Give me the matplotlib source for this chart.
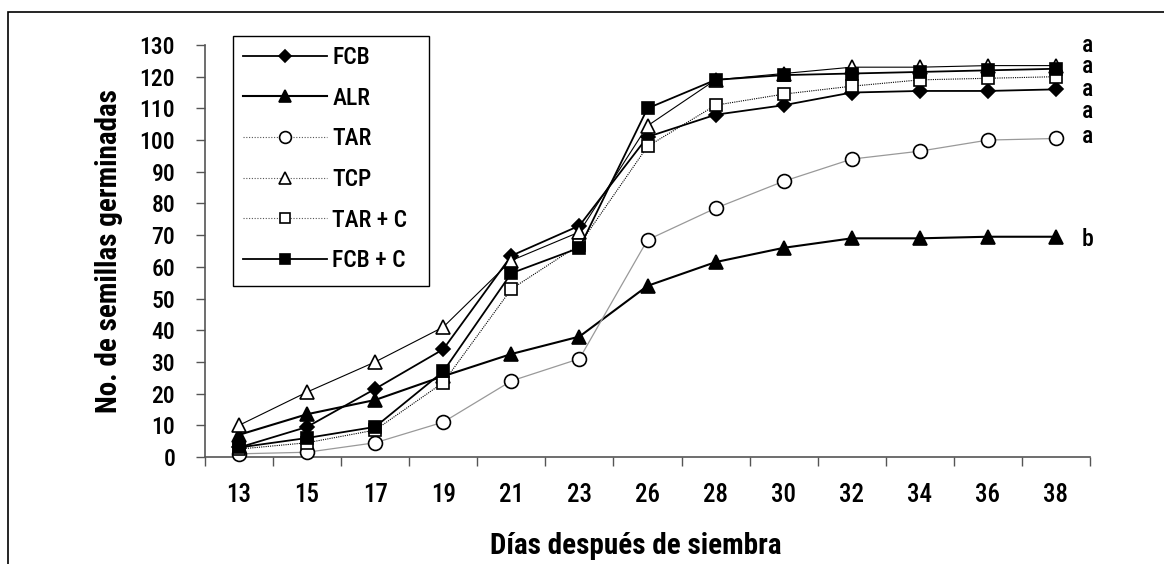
import matplotlib
matplotlib.use("Agg")
import matplotlib.pyplot as plt
from matplotlib.patches import Rectangle
from matplotlib.lines import Line2D

plt.rcParams['font.family'] = ['Roboto Condensed', 'DejaVu Sans']
plt.rcParams['font.stretch'] = 'condensed'
plt.rcParams['font.weight'] = 'medium'

days = ["13", "15", "17", "19", "21", "23", "26", "28", "30", "32", "34", "36", "38"]
fcb = [3, 9.5, 21.5, 34, 63.5, 73, 101, 108, 111, 115, 115.5, 115.5, 116]
alr = [7, 13.5, 18, 25.5, 32.5, 38, 54, 61.5, 66, 69, 69, 69.5, 69.5]
tar = [1, 1.5, 4.5, 11, 24, 31, 68.5, 78.5, 87, 94, 96.5, 100, 100.5]
tcp = [10, 20.5, 30, 41, 62, 71, 104.5, 119, 121, 123, 123, 123.5, 123.5]
tarc = [2.5, 4.5, 8.5, 23.5, 53, 67, 98, 111, 114.5, 117, 119, 119.5, 120]
fcbc = [3, 6, 9.5, 27, 58, 66, 110, 119, 120.5, 121, 121.5, 122, 122.5]
series_names = ["FCB", "ALR", "TAR", "TCP", "TAR + C", "FCB + C"]
letters = ["a", "a", "a", "a", "a", "b"]
letter_y = [130, 123.3, 116, 109, 101, 68.5]

W, H = 1164, 564
fig = plt.figure(figsize=(W / 100, H / 100), dpi=100)
ax = fig.add_axes([205 / W, 1 - 457 / H, (1090 - 205) / W, (457 - 45) / H])

x = list(range(len(days)))
styles = [
    dict(data=fcb, color='black', lw=1.3, ls='-', marker='D', ms=7, mfc='black', mec='black'),
    dict(data=alr, color='black', lw=1.5, ls='-', marker='^', ms=9.5, mfc='black', mec='black'),
    dict(data=tar, color='#999999', lw=0.9, ls='-', marker='o', ms=10, mfc='white', mec='black'),
    dict(data=tcp, color='black', lw=0.8, ls='-', marker='^', ms=10, mfc='white', mec='black'),
    dict(data=tarc, color='black', lw=0.8, ls=(0, (1, 1)), marker='s', ms=9, mfc='white', mec='black'),
    dict(data=fcbc, color='black', lw=1.3, ls='-', marker='s', ms=9, mfc='black', mec='black'),
]
leg_styles = ['-', '-', (0, (1, 1.5)), (0, (1, 1.5)), (0, (1, 1.5)), '-']
handles = []
for name, st, lst in zip(series_names, styles, leg_styles):
    ax.plot(x, st['data'], color=st['color'], lw=st['lw'], ls=st['ls'], marker=st['marker'],
            ms=st['ms'], mfc=st['mfc'], mec=st['mec'], mew=1.2, clip_on=False, zorder=3)
    handles.append(Line2D([], [], color='black' if lst == '-' else '#555555',
                          lw=st['lw'] if lst == '-' else 0.8, ls=lst, marker=st['marker'],
                          ms=st['ms'] * 0.85, mfc=st['mfc'], mec=st['mec'], mew=1.2))

ax.set_xlim(-0.5, len(days) - 0.5)
ax.set_ylim(0, 130)
ax.set_yticks(range(0, 131, 10))
ax.set_xticks([i - 0.5 for i in range(len(days) + 1)])
ax.set_xticklabels([])
ax.set_xticks(x, minor=True)
ax.set_xticklabels(days, minor=True)
ax.tick_params(axis='x', which='major', length=6.5, width=1, color='#555555', direction='out')
ax.tick_params(axis='x', which='minor', length=0, pad=19, labelsize=18)
ax.tick_params(axis='y', length=6.5, width=1, color='#555555', direction='out', pad=15, labelsize=17)
for s in ['top', 'right']:
    ax.spines[s].set_visible(False)
for s in ['left', 'bottom']:
    ax.spines[s].set_color('#555555')
    ax.spines[s].set_linewidth(1.2)

for lt, ly in zip(letters, letter_y):
    ax.text(12.47, ly, lt, fontsize=17, ha='center', va='center', clip_on=False)

ax.set_xlabel("Días después de siembra", fontsize=21, fontweight='bold', labelpad=18)
ax.xaxis.label.set_x(0.487)
ax.set_ylabel("No. de semillas germinadas", fontsize=21, fontweight='bold', labelpad=12)

leg = fig.legend(handles, series_names, loc='upper left',
                 bbox_to_anchor=(233 / W, 1 - 36 / H), frameon=False,
                 fontsize=17, handlelength=3.56, handletextpad=0.22,
                 labelspacing=0.75, borderpad=0.42, borderaxespad=0)
fig.add_artist(Rectangle((233 / W, 1 - 286 / H), (429 - 233) / W, (286 - 36) / H,
                         transform=fig.transFigure, fill=True, facecolor='white',
                         edgecolor='black', lw=1.0, zorder=4))
leg.set_zorder(5)

fig.add_artist(Rectangle((8 / W, -0.1), 1.2, 1 - 12 / H + 0.1, transform=fig.transFigure,
                         fill=False, edgecolor='black', lw=1.2))

fig.savefig("out.png", dpi=100)
